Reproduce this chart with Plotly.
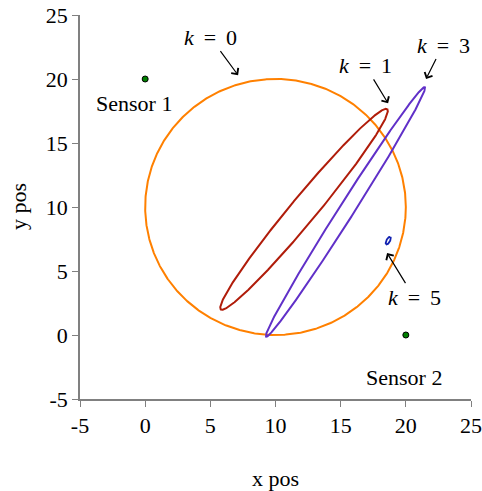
import numpy as np
import plotly.graph_objects as go

# covariance ellipses: centre, semi-axes, tilt (deg)
steps = ["k = 0", "k = 1", "k = 3", "k = 5"]
centre_x = [10.0, 12.19, 15.37, 18.65]
centre_y = [10.0, 9.82, 9.62, 7.37]
semi_major = [10.0, 10.1, 11.5, 0.33]
semi_minor = [10.0, 1.0, 0.58, 0.14]
tilt_deg = [0, 50.8, 58.0, 62.0]
colors = ["#FF8000", "#B01C0A", "#6030C8", "#1020B0"]

# sensor positions
sensor_names = ["Sensor 1", "Sensor 2"]
sensor_x = [0, 20]
sensor_y = [20, 0]

# label anchors (arrow tips) for each step
tip_x = [7.13, 18.64, 21.55, 18.56]
tip_y = [20.3, 18.1, 20.0, 6.4]
label_ax = [-28, -23, 17, 27]
label_ay = [-38, -38, -34, 44]

ticks = [-5, 0, 5, 10, 15, 20, 25]
tick_labels = ["-5", "0", "5", "10", "15", "20", "25"]

fig = go.Figure()

t = np.linspace(0, 2 * np.pi, 721)
for i in range(len(steps)):
    th = np.radians(tilt_deg[i])
    u = semi_major[i] * np.cos(t)
    v = semi_minor[i] * np.sin(t)
    xs = centre_x[i] + u * np.cos(th) - v * np.sin(th)
    ys = centre_y[i] + u * np.sin(th) + v * np.cos(th)
    fig.add_trace(go.Scatter(x=xs, y=ys, mode="lines",
                             line=dict(color=colors[i], width=2 if i < 3 else 1.8),
                             hoverinfo="skip", showlegend=False))

fig.add_trace(go.Scatter(x=sensor_x, y=sensor_y, mode="markers",
                         marker=dict(size=6, color="#008000",
                                     line=dict(color="black", width=1)),
                         showlegend=False))

font = dict(family="Liberation Serif, Times New Roman, serif", size=22, color="black")

for i in range(len(steps)):
    txt = steps[i].replace("k", "<i>k</i>", 1).replace(" = ", "&nbsp;\u2009=\u2009&nbsp;")
    fig.add_annotation(x=tip_x[i], y=tip_y[i], text=txt, showarrow=True,
                       ax=label_ax[i], ay=label_ay[i], arrowhead=4,
                       arrowsize=1.4, arrowwidth=1.2, arrowcolor="black",
                       font=font)

fig.add_annotation(x=-0.86, y=18.1, text=sensor_names[0], showarrow=False, font=font)
fig.add_annotation(x=19.87, y=-3.3, text=sensor_names[1], showarrow=False, font=font)

# axis titles
fig.add_annotation(xref="paper", yref="paper", x=0.5, y=0, yshift=-79,
                   xanchor="center", yanchor="middle",
                   text="x pos", showarrow=False, font=font)
fig.add_annotation(xref="paper", yref="paper", x=0, y=0.5, xshift=-62,
                   xanchor="center", yanchor="middle",
                   text="y pos", textangle=-90, showarrow=False, font=font)

axis = dict(range=[-5, 25], tickvals=ticks, ticktext=tick_labels,
            showgrid=False, zeroline=False, automargin=False,
            showline=True, linecolor="#808080", linewidth=1.5,
            ticks="outside", ticklen=6, tickcolor="#808080",
            tickfont=font, ticklabeloverflow="allow")

fig.update_layout(
    width=482, height=491,
    margin=dict(l=80, r=11, t=15, b=92),
    plot_bgcolor="white", paper_bgcolor="white",
    xaxis=axis,
    yaxis=axis,
)

# drop the default 8px body margin so the figure fills the window
fig.write_html("out.html", config={"displayModeBar": False},
               post_script="document.body.style.margin='0';")
